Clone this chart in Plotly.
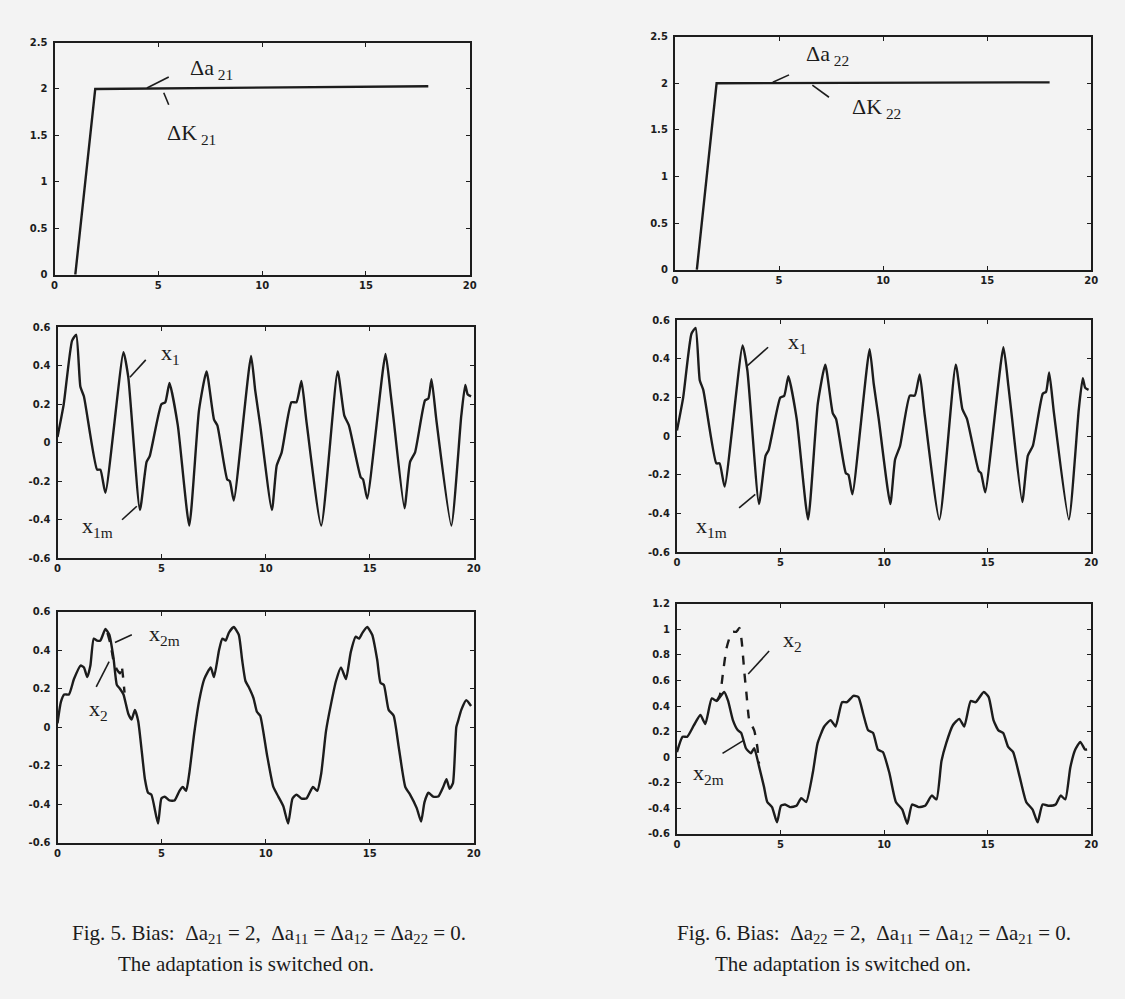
import plotly.graph_objects as go

# ---------------- data ----------------
ramp5_t = [1.0, 1.96, 18.0]
ramp5_v = [0.0, 2.0, 2.03]
ramp6_t = [1.05, 2.0, 18.0]
ramp6_v = [0.0, 2.0, 2.01]

x1_t = [0, 0.3, 0.7, 0.9, 1.1, 1.27, 1.9, 2.06, 2.3, 3.17, 3.4, 3.96, 4.28, 4.43, 4.99, 5.18, 5.38,
        5.78, 6.33, 6.8, 7.16, 7.52, 7.68, 8.15, 8.28, 8.47, 9.3, 9.5, 9.74, 10.3, 10.53, 10.77,
        11.24, 11.48, 11.72, 11.95, 12.67, 13.46, 13.78, 14.0, 14.57, 14.68, 14.88, 15.76, 16.0,
        16.15, 16.67, 16.94, 17.18, 17.66, 17.82, 17.97, 18.2, 18.92, 19.4, 19.59, 19.71, 19.87]
x1_v = [0.03, 0.2, 0.53, 0.56, 0.29, 0.24, -0.14, -0.14, -0.26, 0.47, 0.34, -0.35, -0.1, -0.07, 0.2,
        0.21, 0.31, 0.09, -0.43, 0.17, 0.37, 0.12, 0.09, -0.19, -0.2, -0.3, 0.45, 0.27, 0.09, -0.35,
        -0.12, -0.05, 0.21, 0.21, 0.32, 0.12, -0.43, 0.37, 0.14, 0.09, -0.18, -0.19, -0.29, 0.46,
        0.26, 0.12, -0.34, -0.1, -0.05, 0.22, 0.23, 0.33, 0.12, -0.43, 0.14, 0.3, 0.25, 0.24]

x2m5_t = [0, 0.16, 0.32, 0.55, 0.79, 1.11, 1.27, 1.43, 1.58, 1.74, 1.9, 2.06, 2.3, 2.49, 2.69, 2.85,
          3.0, 3.17, 3.4, 3.56, 3.72, 3.88, 4.2, 4.35, 4.51, 4.83, 4.99, 5.15, 5.38, 5.62, 5.86,
          6.02, 6.18, 6.33, 6.57, 6.81, 7.05, 7.36, 7.52, 7.76, 7.92, 8.08, 8.23, 8.47, 8.71, 8.87,
          9.03, 9.18, 9.42, 9.58, 9.74, 10.06, 10.37, 10.61, 10.85, 11.08, 11.29, 11.48, 11.72,
          11.96, 12.27, 12.48, 12.67, 12.9, 13.14, 13.38, 13.62, 13.86, 14.09, 14.33, 14.49, 14.65,
          14.88, 15.12, 15.36, 15.52, 15.68, 15.91, 16.15, 16.39, 16.71, 16.94, 17.26, 17.47, 17.63,
          17.82, 18.05, 18.29, 18.53, 18.69, 18.84, 19.0, 19.16, 19.24, 19.4, 19.64, 19.87]
x2m5_v = [0.02, 0.13, 0.17, 0.17, 0.25, 0.32, 0.31, 0.26, 0.32, 0.46, 0.45, 0.45, 0.51, 0.48, 0.36,
          0.22, 0.2, 0.17, 0.07, 0.04, 0.09, 0.03, -0.27, -0.34, -0.35, -0.5, -0.37, -0.36, -0.38,
          -0.38, -0.33, -0.31, -0.33, -0.24, -0.03, 0.14, 0.25, 0.31, 0.26, 0.4, 0.46, 0.45, 0.49,
          0.52, 0.48, 0.35, 0.24, 0.21, 0.15, 0.08, 0.06, -0.14, -0.31, -0.36, -0.41, -0.5, -0.37,
          -0.35, -0.37, -0.37, -0.31, -0.33, -0.24, -0.02, 0.12, 0.24, 0.31, 0.25, 0.39, 0.47, 0.46,
          0.49, 0.52, 0.48, 0.35, 0.23, 0.22, 0.09, 0.06, -0.1, -0.31, -0.35, -0.42, -0.49, -0.39,
          -0.34, -0.36, -0.36, -0.31, -0.27, -0.32, -0.29, 0.0, 0.03, 0.09, 0.14, 0.11]
x2d5_t = [2.4, 2.55, 2.7, 2.85, 3.0, 3.08, 3.15, 3.22]
x2d5_v = [0.49, 0.43, 0.34, 0.30, 0.28, 0.32, 0.26, 0.18]

x2m6_t = [0, 0.27, 0.5, 0.82, 1.13, 1.37, 1.68, 1.92, 2.28, 2.47, 2.7, 2.94, 3.1, 3.33, 3.57, 3.73,
          3.96, 4.2, 4.36, 4.59, 4.83, 5.02, 5.22, 5.46, 5.77, 6.0, 6.24, 6.56, 6.79, 7.11, 7.42,
          7.66, 7.97, 8.21, 8.52, 8.76, 8.99, 9.23, 9.47, 9.7, 9.94, 10.25, 10.57, 10.88, 11.12,
          11.35, 11.67, 11.98, 12.3, 12.53, 12.77, 13.0, 13.32, 13.63, 13.87, 14.18, 14.42, 14.81,
          15.05, 15.28, 15.52, 15.75, 15.99, 16.23, 16.54, 16.86, 17.17, 17.41, 17.65, 17.96, 18.28,
          18.52, 18.75, 18.99, 19.23, 19.47, 19.7, 19.8]
x2m6_v = [0.04, 0.16, 0.16, 0.25, 0.33, 0.26, 0.46, 0.44, 0.51, 0.44, 0.29, 0.21, 0.19, 0.07, 0.03,
          0.07, -0.07, -0.23, -0.35, -0.39, -0.51, -0.38, -0.37, -0.39, -0.38, -0.32, -0.35, -0.12,
          0.11, 0.24, 0.29, 0.24, 0.43, 0.43, 0.48, 0.47, 0.34, 0.21, 0.19, 0.06, 0.04, -0.12, -0.35,
          -0.41, -0.52, -0.37, -0.39, -0.38, -0.3, -0.33, -0.03, 0.11, 0.25, 0.3, 0.24, 0.44, 0.43,
          0.51, 0.47, 0.29, 0.21, 0.19, 0.08, 0.04, -0.15, -0.35, -0.41, -0.51, -0.37, -0.38, -0.37,
          -0.3, -0.33, -0.08, 0.06, 0.12, 0.06, 0.06]
x2d6_t = [1.92, 2.08, 2.23, 2.39, 2.55, 2.7, 2.86, 3.02, 3.13, 3.25, 3.36, 3.49, 3.73, 3.88, 3.96]
x2d6_v = [0.44, 0.49, 0.67, 0.85, 0.94, 0.98, 0.98, 1.01, 0.9, 0.67, 0.49, 0.29, 0.21, 0.08, -0.05]

x_ticks = [0, 5, 10, 15, 20]
y_ticks_top = [0, 0.5, 1, 1.5, 2, 2.5]
y_ticks_mid = [-0.6, -0.4, -0.2, 0, 0.2, 0.4, 0.6]
y_ticks_br = [-0.6, -0.4, -0.2, 0, 0.2, 0.4, 0.6, 0.8, 1, 1.2]

# ---------------- layout helpers ----------------
W, H = 1125, 999
BG = "#f3f3f3"
INK = "#1c1c1c"

# pixel boxes: (left, right, top, bottom)
boxes = {
    1: (52, 471, 37, 272),
    2: (678, 1098, 31, 267),
    3: (55, 475, 325, 559),
    4: (680, 1098, 318, 553),
    5: (55, 475, 613, 847),
    6: (680, 1098, 605, 838),
}
yranges = {1: [0, 2.5], 2: [0, 2.5], 3: [-0.6, 0.6], 4: [-0.6, 0.6], 5: [-0.6, 0.6], 6: [-0.6, 1.2]}
yticks = {1: y_ticks_top, 2: y_ticks_top, 3: y_ticks_mid, 4: y_ticks_mid, 5: y_ticks_mid, 6: y_ticks_br}

fig = go.Figure()

def ref(i):
    return ("x" if i == 1 else f"x{i}"), ("y" if i == 1 else f"y{i}")

def add_line(i, t, v, dash="solid", smooth=True):
    xr, yr = ref(i)
    fig.add_trace(go.Scatter(x=t, y=v, xaxis=xr, yaxis=yr, mode="lines",
                             line=dict(color=INK, width=2.4, dash=dash,
                                       shape="spline" if smooth else "linear",
                                       smoothing=0.5),
                             showlegend=False, hoverinfo="skip"))

add_line(1, ramp5_t, ramp5_v, smooth=False)
add_line(2, ramp6_t, ramp6_v, smooth=False)
add_line(3, x1_t, x1_v)
add_line(4, x1_t, x1_v)
add_line(5, x2m5_t, x2m5_v)
add_line(5, x2d5_t, x2d5_v, dash="dash")
add_line(6, x2m6_t, x2m6_v)
add_line(6, x2d6_t, x2d6_v, dash="dash")

tickfont = dict(family="DejaVu Sans", size=10, color=INK, weight=700)
layout = dict(width=W, height=H, paper_bgcolor=BG, plot_bgcolor=BG,
              margin=dict(l=0, r=0, t=0, b=0), showlegend=False)

def fmt(v):
    return f"{v:g}"

for i, (l, r, t, b) in boxes.items():
    xk = "xaxis" if i == 1 else f"xaxis{i}"
    yk = "yaxis" if i == 1 else f"yaxis{i}"
    xr, yr = ref(i)
    common = dict(showline=True, linecolor=INK, linewidth=2.2, mirror="allticks",
                  ticks="inside", ticklen=4, tickwidth=1.2, tickcolor=INK,
                  showgrid=False, zeroline=False, tickfont=tickfont, fixedrange=True)
    layout[xk] = dict(domain=[l / W, r / W], anchor=yr, range=[0, 20],
                      tickvals=x_ticks, ticktext=[fmt(v) for v in x_ticks],
                      ticklabelstandoff=0, **common)
    layout[yk] = dict(domain=[1 - b / H, 1 - t / H], anchor=xr, range=yranges[i],
                      tickvals=yticks[i], ticktext=[fmt(v) for v in yticks[i]],
                      ticklabelstandoff=3, **common)

fig.update_layout(**layout)

# ---------------- labels and leader lines ----------------
SERIF = "Liberation Serif"
labels = [
    # (subplot, text, x, y)
    (1, "Δa<sub> 21</sub>", 6.45, 2.22),
    (1, "ΔK<sub> 21</sub>", 5.3, 1.51),
    (2, "Δa<sub> 22</sub>", 6.2, 2.30),
    (2, "ΔK<sub> 22</sub>", 8.4, 1.74),
    (3, "x<sub>1</sub>", 4.86, 0.46),
    (3, "x<sub>1m</sub>", 1.1, -0.44),
    (4, "x<sub>1</sub>", 5.26, 0.48),
    (4, "x<sub>1m</sub>", 0.8, -0.47),
    (5, "x<sub>2m</sub>", 4.3, 0.48),
    (5, "x<sub>2</sub>", 1.4, 0.09),
    (6, "x<sub>2</sub>", 5.0, 0.91),
    (6, "x<sub>2m</sub>", 0.7, -0.13),
]
for i, txt, x, y in labels:
    xr, yr = ref(i)
    fig.add_annotation(x=x, y=y, xref=xr, yref=yr, text=txt, showarrow=False,
                       xanchor="left", yanchor="middle",
                       font=dict(family=SERIF, size=22, color=INK))

leaders = [
    (1, 4.45, 2.01, 5.5, 2.13),
    (1, 5.26, 1.96, 5.5, 1.83),
    (2, 4.7, 2.01, 5.48, 2.09),
    (2, 6.6, 1.98, 7.4, 1.85),
    (3, 3.48, 0.34, 4.24, 0.43),
    (3, 3.1, -0.40, 3.81, -0.33),
    (4, 3.35, 0.36, 4.4, 0.46),
    (4, 3.0, -0.37, 3.78, -0.30),
    (5, 2.76, 0.44, 3.57, 0.48),
    (5, 1.86, 0.21, 2.48, 0.34),
    (6, 3.44, 0.65, 4.45, 0.83),
    (6, 2.2, 0.03, 3.2, 0.13),
]
for i, x0, y0, x1, y1 in leaders:
    xr, yr = ref(i)
    fig.add_shape(type="line", xref=xr, yref=yr, x0=x0, y0=y0, x1=x1, y1=y1,
                  line=dict(color=INK, width=1.6))

# ---------------- captions ----------------
cap_font = dict(family=SERIF, size=21, color=INK)
captions = [
    (268, 939, "Fig. 5. Bias:  Δa<sub>21</sub> = 2,  Δa<sub>11</sub> = Δa<sub>12</sub> = Δa<sub>22</sub> = 0."),
    (245, 970, "The adaptation is switched on."),
    (879, 939, "Fig. 6. Bias:  Δa<sub>22</sub> = 2,  Δa<sub>11</sub> = Δa<sub>12</sub> = Δa<sub>21</sub> = 0."),
    (848, 970, "The adaptation is switched on."),
]
for cx, cy, txt in captions:
    fig.add_annotation(x=cx / W, y=1 - cy / H, xref="paper", yref="paper", text=txt,
                       showarrow=False, xanchor="center", yanchor="middle", font=cap_font)

fig.write_html("out.html", config={"displayModeBar": False},
               post_script="document.body.style.margin='0';document.body.style.background='#f3f3f3';")
